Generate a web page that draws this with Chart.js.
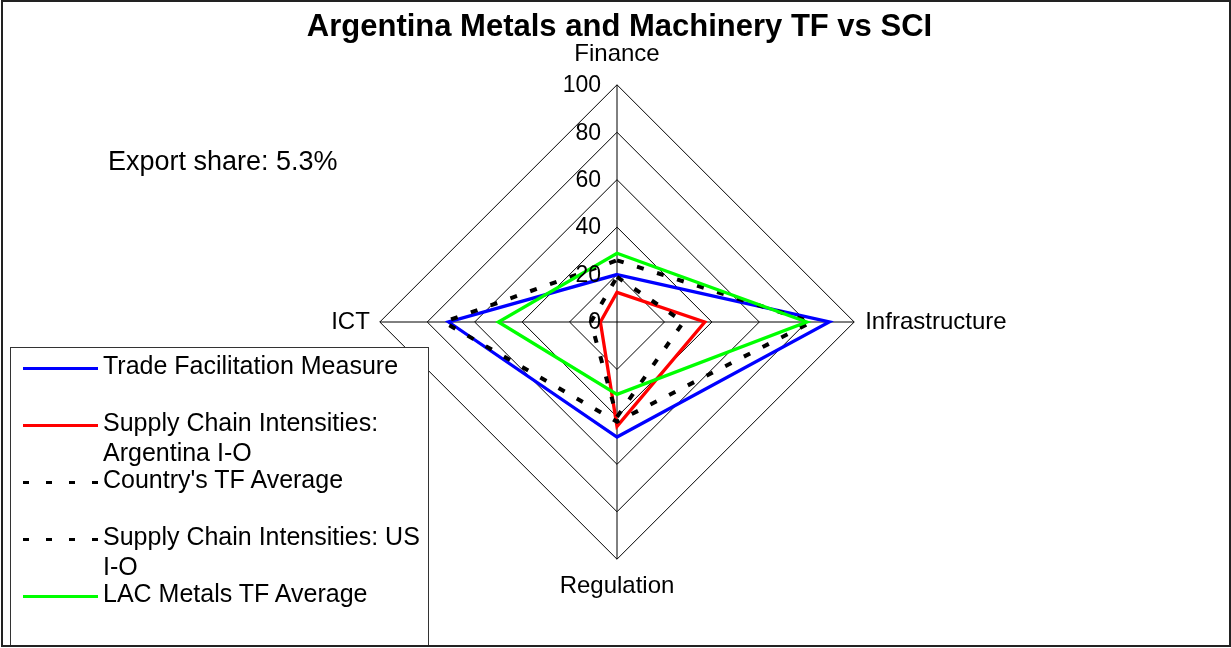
<!DOCTYPE html>
<html>
<head>
<meta charset="utf-8">
<script src="https://cdn.jsdelivr.net/npm/chart.js@4.4.1/dist/chart.umd.min.js"></script>
<style>
  html, body { margin: 0; padding: 0; background: #fff; }
  #frame { position: relative; width: 1231px; height: 648px; font-family: "Liberation Sans", Arial, sans-serif; color: #000; }
  #chart { position: absolute; left: 0; top: 0; }
  #border { position: absolute; left: 1px; top: 0; width: 1230px; height: 647px; border: 2px solid #222; box-sizing: border-box; pointer-events: none; }
  #title { position: absolute; left: 2px; width: 1235px; top: 10px; text-align: center; font-weight: bold; font-size: 31px; line-height: 31px; white-space: nowrap; }
  #note { position: absolute; left: 108px; top: 148px; font-size: 27px; line-height: 27px; white-space: nowrap; }
  #legend { position: absolute; left: 10px; top: 347px; width: 419px; height: 300px; background: #fff; border: 1.5px solid #333; box-sizing: border-box; }
  .item { position: absolute; left: 0; width: 419px; }
  .sample { position: absolute; left: 12px; top: 16px; width: 75px; height: 3px; }
  .text { position: absolute; left: 92px; top: 0; width: 328px; font-size: 25px; line-height: 29.5px; }
</style>
</head>
<body>
<div id="frame">
  <canvas id="chart" width="1231" height="648"></canvas>
  <div id="title">Argentina Metals and Machinery TF vs SCI</div>
  <div id="note">Export share: 5.3%</div>
  <div id="legend"></div>
  <div id="border"></div>
</div>
<script>
const axes = ['Finance', 'Infrastructure', 'Regulation', 'ICT'];
const tickValues = [0, 20, 40, 60, 80, 100];

const tfMeasure = [20, 89.5, 48.5, 71];
const sciArgentina = [12.5, 37, 44, 7];
const countryTfAvg = [26, 82, 42, 73];
const sciUs = [19, 28, 40, 11];
const lacMetalsAvg = [29, 80, 30.5, 50];

const seriesNames = [
  'Trade Facilitation Measure',
  'Supply Chain Intensities: Argentina I-O',
  "Country's TF Average",
  'Supply Chain Intensities: US I-O',
  'LAC Metals TF Average'
];
const seriesData = [tfMeasure, sciArgentina, countryTfAvg, sciUs, lacMetalsAvg];
const seriesColors = ['#0000ff', '#ff0000', '#000000', '#000000', '#00ff00'];
const seriesDashed = [false, false, true, true, false];

const FONT = '"Liberation Sans", Arial, sans-serif';

const datasets = seriesData.map((data, i) => ({
  label: seriesNames[i],
  data: data,
  borderColor: seriesColors[i],
  backgroundColor: seriesColors[i],
  borderWidth: seriesDashed[i] ? 4 : 3.3,
  borderDash: seriesDashed[i] ? [7, 14] : [],
  fill: false,
  pointRadius: 0,
  pointHoverRadius: 0,
  order: -i
}));

// tick labels sit right-aligned left of the vertical axis
const tickPlugin = {
  id: 'leftTicks',
  afterDatasetsDraw(chart) {
    const r = chart.scales.r;
    const ctx = chart.ctx;
    ctx.save();
    ctx.font = '23px ' + FONT;
    ctx.fillStyle = '#000';
    ctx.textAlign = 'right';
    ctx.textBaseline = 'middle';
    tickValues.forEach(v => {
      const p = r.getPointPositionForValue(0, v);
      ctx.fillText(String(v), r.xCenter - 16, p.y + 1);
    });
    ctx.restore();
  }
};

const labelPads = [16, 11, 13, 10];

new Chart(document.getElementById('chart'), {
  type: 'radar',
  data: { labels: axes, datasets: datasets },
  options: {
    responsive: false,
    animation: false,
    devicePixelRatio: 1,
    layout: { padding: { left: 3, right: 0, top: 39, bottom: 45 } },
    plugins: {
      legend: { display: false },
      title: { display: false },
      tooltip: { enabled: false }
    },
    elements: { line: { tension: 0 } },
    scales: {
      r: {
        min: 0,
        max: 100,
        ticks: { display: false, stepSize: 20 },
        grid: { color: '#000', lineWidth: 1 },
        angleLines: { color: '#000', lineWidth: 1 },
        pointLabels: {
          color: '#000',
          font: { family: FONT, size: 24 },
          padding: ctx => labelPads[ctx.index]
        }
      }
    }
  },
  plugins: [tickPlugin]
});

// legend box built from the same series
const legend = document.getElementById('legend');
seriesNames.forEach((name, i) => {
  const item = document.createElement('div');
  item.className = 'item';
  item.style.top = (3 + 57 * i) + 'px';
  const sample = document.createElement('div');
  sample.className = 'sample';
  if (seriesDashed[i]) {
    sample.style.background = 'repeating-linear-gradient(to right, #000 0 6px, transparent 6px 23px)';
  } else {
    sample.style.background = seriesColors[i];
  }
  const text = document.createElement('div');
  text.className = 'text';
  text.textContent = name;
  item.appendChild(sample);
  item.appendChild(text);
  legend.appendChild(item);
});
</script>
</body>
</html>
